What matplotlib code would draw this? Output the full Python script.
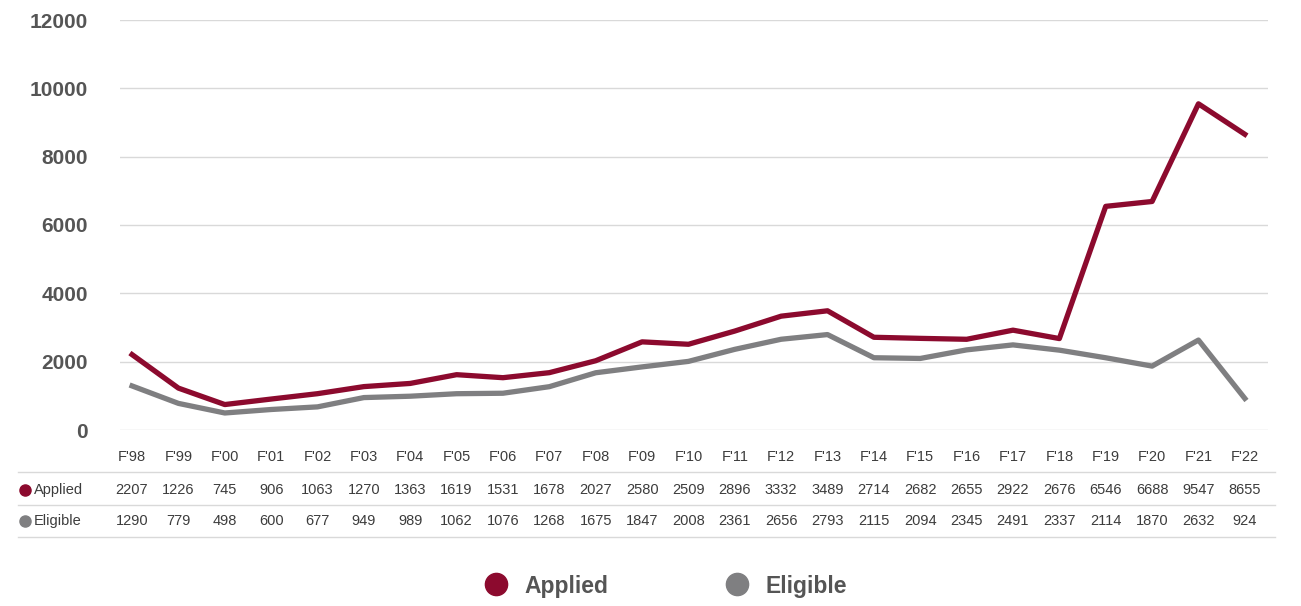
import matplotlib.pyplot as plt
from matplotlib.lines import Line2D

# --- data ---
years = ["F'98", "F'99", "F'00", "F'01", "F'02", "F'03", "F'04", "F'05", "F'06",
         "F'07", "F'08", "F'09", "F'10", "F'11", "F'12", "F'13", "F'14", "F'15",
         "F'16", "F'17", "F'18", "F'19", "F'20", "F'21", "F'22"]
applied = [2207, 1226, 745, 906, 1063, 1270, 1363, 1619, 1531, 1678, 2027, 2580,
           2509, 2896, 3332, 3489, 2714, 2682, 2655, 2922, 2676, 6546, 6688, 9547, 8655]
eligible = [1290, 779, 498, 600, 677, 949, 989, 1062, 1076, 1268, 1675, 1847,
            2008, 2361, 2656, 2793, 2115, 2094, 2345, 2491, 2337, 2114, 1870, 2632, 924]
yticks = [0, 2000, 4000, 6000, 8000, 10000, 12000]

RED = "#8c0a2e"
GREY = "#7f7f81"
TXT = "#3c3c3c"
SANS = ["Liberation Sans", "DejaVu Sans"]

W, H = 1301, 606
fig = plt.figure(figsize=(W / 100, H / 100), dpi=100)
# axes placed in pixel units
ax_l, ax_r, ax_t, ax_b = 120, 1268, 20, 430
ax = fig.add_axes([ax_l / W, 1 - ax_b / H, (ax_r - ax_l) / W, (ax_b - ax_t) / H])

x = list(range(len(years)))
ax.plot(x, eligible, color=GREY, lw=3.8, solid_joinstyle="round", zorder=3)
ax.plot(x, applied, color=RED, lw=3.8, solid_joinstyle="round", zorder=4)

ax.set_xlim(-0.26, len(years) - 0.5)
ax.set_ylim(0, 12000)
ax.set_yticks(yticks)
ax.set_yticklabels([str(v) for v in yticks], family=SANS, fontsize=15,
                   fontweight="bold", color="#555555")
ax.tick_params(axis="y", length=0, pad=23)
ax.set_xticks([])
ax.grid(axis="y", color="#d9d9d9", lw=1)
ax.set_axisbelow(True)
for s in ax.spines.values():
    s.set_visible(False)

# --- data table under the plot ---
def fy(py):
    return 1 - py / H

def fx(px):
    return px / W

trans = ax.get_xaxis_transform()
def ay(py):
    # pixel row -> axes fraction
    return (ax_b - py) / (ax_b - ax_t)

for i, lab in enumerate(years):
    ax.text(i, ay(457), lab, transform=trans, ha="center", va="center",
            family=SANS, fontsize=10.5, color=TXT, clip_on=False)
    ax.text(i, ay(490), str(applied[i]), transform=trans, ha="center", va="center",
            family=SANS, fontsize=10.5, color=TXT, clip_on=False)
    ax.text(i, ay(521), str(eligible[i]), transform=trans, ha="center", va="center",
            family=SANS, fontsize=10.5, color=TXT, clip_on=False)

for py in [472, 505, 537]:
    fig.add_artist(Line2D([fx(18), fx(1275)], [fy(py), fy(py)], color="#d9d9d9",
                          lw=1, transform=fig.transFigure))

for py, name, col in [(490, "Applied", RED), (521, "Eligible", GREY)]:
    fig.add_artist(Line2D([fx(25)], [fy(py)], marker="o", ms=8, color=col,
                          transform=fig.transFigure))
    fig.text(fx(34), fy(py), name, ha="left", va="center", family=SANS,
             fontsize=10.5, color=TXT)

# --- legend ---
handles = [Line2D([], [], ls="none", marker="o", ms=16, color=RED, label="Applied"),
           Line2D([], [], ls="none", marker="o", ms=16, color=GREY, label="Eligible")]
leg = fig.legend(handles=handles, loc="center", bbox_to_anchor=(fx(660), fy(586)),
                 ncol=2, frameon=False, handletextpad=0.25, columnspacing=4.6,
                 prop={"family": SANS, "size": 16.5, "weight": "bold"})
for t in leg.get_texts():
    t.set_color("#555555")

fig.savefig("out.png", dpi=100, facecolor="white")
